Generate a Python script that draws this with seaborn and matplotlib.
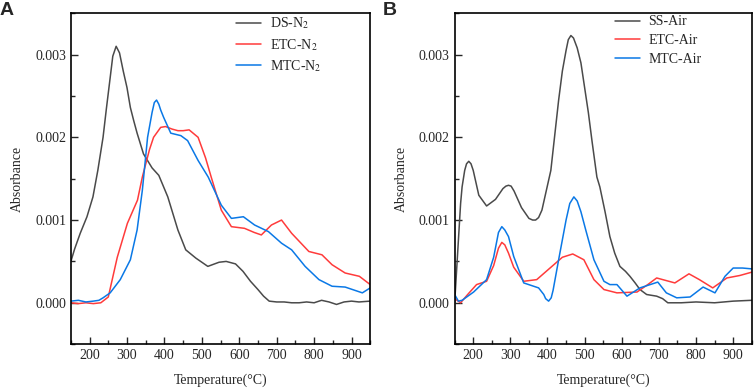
import pandas as pd
import seaborn as sns
import matplotlib.pyplot as plt
from matplotlib.ticker import MultipleLocator

# Panel A (N2 atmosphere), absorbance in units of 1e-3
ds_n2_t = [150, 160, 175, 193, 209, 222, 236, 245, 255, 262, 271, 280, 290, 300, 309, 318, 327,
           344, 367, 385, 409, 436, 457, 484, 516, 546, 565, 590, 610, 630, 650, 665, 680, 700,
           720, 740, 760, 780, 800, 820, 840, 860, 880, 900, 920, 950]
ds_n2_v = [0.5, 0.65, 0.84, 1.04, 1.28, 1.6, 2.0, 2.35, 2.72, 2.98, 3.1, 3.02, 2.8, 2.6, 2.36, 2.2,
           2.05, 1.8, 1.63, 1.54, 1.28, 0.88, 0.64, 0.54, 0.44, 0.49, 0.5, 0.47, 0.38, 0.26, 0.16,
           0.08, 0.02, 0.01, 0.01, 0.0, 0.0, 0.01, 0.0, 0.03, 0.01, -0.02, 0.01, 0.02, 0.01, 0.02]

etc_n2_t = [150, 170, 190, 210, 230, 250, 274, 301, 328, 341, 360, 371, 390, 403, 420, 436, 450,
            466, 490, 510, 525, 552, 579, 614, 640, 659, 686, 713, 740, 786, 821, 848, 883, 921, 950]
etc_n2_v = [0.0, -0.01, 0.0, -0.01, 0.0, 0.07, 0.55, 0.96, 1.24, 1.52, 1.85, 2.0, 2.12, 2.13, 2.1,
            2.08, 2.08, 2.09, 2.0, 1.75, 1.52, 1.12, 0.92, 0.9, 0.85, 0.82, 0.94, 1.0, 0.84, 0.62,
            0.58, 0.46, 0.36, 0.32, 0.22]

mtc_n2_t = [150, 170, 190, 210, 225, 236, 255, 282, 309, 327, 341, 355, 367, 373, 379, 385, 390,
            398, 417, 444, 462, 490, 517, 552, 579, 611, 641, 678, 713, 740, 776, 813, 848, 883,
            929, 950]
mtc_n2_v = [0.02, 0.03, 0.01, 0.02, 0.03, 0.06, 0.12, 0.28, 0.52, 0.88, 1.36, 2.0, 2.3, 2.42, 2.45,
            2.4, 2.33, 2.24, 2.05, 2.02, 1.96, 1.72, 1.52, 1.18, 1.02, 1.04, 0.94, 0.86, 0.72, 0.64,
            0.44, 0.28, 0.2, 0.19, 0.12, 0.18]

# Panel B (air atmosphere)
ss_air_t = [150, 158, 166, 170, 177, 182, 188, 194, 200, 215, 236, 260, 280, 288, 295, 302, 310,
            330, 350, 360, 368, 376, 385, 409, 430, 440, 450, 456, 463, 470, 480, 490, 500, 510,
            520, 533, 541, 555, 568, 581, 595, 610, 622, 636, 649, 667, 694, 710, 724, 760, 800,
            850, 900, 950]
ss_air_v = [0.0, 0.6, 1.2, 1.4, 1.6, 1.68, 1.71, 1.68, 1.6, 1.3, 1.17, 1.25, 1.38, 1.41, 1.42, 1.41,
            1.35, 1.15, 1.02, 1.0, 1.0, 1.03, 1.12, 1.6, 2.45, 2.8, 3.05, 3.18, 3.23, 3.2, 3.08,
            2.9, 2.6, 2.3, 1.95, 1.52, 1.4, 1.1, 0.8, 0.6, 0.44, 0.38, 0.32, 0.24, 0.16, 0.1, 0.08,
            0.05, 0.0, 0.0, 0.01, 0.0, 0.02, 0.03]

etc_air_t = [150, 166, 185, 209, 236, 255, 268, 277, 285, 295, 309, 336, 371, 417, 440, 468, 498,
             525, 552, 587, 641, 670, 694, 743, 781, 809, 845, 883, 918, 950]
etc_air_v = [0.05, 0.0, 0.1, 0.22, 0.26, 0.45, 0.66, 0.73, 0.7, 0.6, 0.43, 0.26, 0.28, 0.46, 0.55,
             0.59, 0.52, 0.28, 0.16, 0.12, 0.13, 0.22, 0.3, 0.24, 0.35, 0.28, 0.18, 0.3, 0.33, 0.37]

mtc_air_t = [150, 160, 170, 201, 236, 255, 268, 277, 285, 295, 309, 336, 376, 390, 395, 403, 410,
             415, 430, 450, 460, 471, 480, 490, 503, 525, 552, 568, 587, 614, 649, 697, 720, 748,
             784, 819, 851, 878, 900, 925, 950]
mtc_air_v = [0.1, 0.02, 0.03, 0.13, 0.28, 0.55, 0.85, 0.92, 0.88, 0.8, 0.56, 0.24, 0.18, 0.1, 0.05,
             0.02, 0.06, 0.15, 0.52, 1.0, 1.2, 1.28, 1.23, 1.1, 0.88, 0.52, 0.26, 0.22, 0.22, 0.08,
             0.18, 0.25, 0.12, 0.06, 0.07, 0.19, 0.12, 0.32, 0.42, 0.42, 0.41]

labels_a = ['DS-N$_2$', 'ETC-N$_2$', 'MTC-N$_2$']
labels_b = ['SS-Air', 'ETC-Air', 'MTC-Air']
colors = ['#4a4a4a', '#ff3b3b', '#0a78e6']


def long_frame(series, labels):
    frames = []
    for (t, v), name in zip(series, labels):
        frames.append(pd.DataFrame({'T': t, 'A': [x * 1e-3 for x in v], 'sample': name}))
    return pd.concat(frames, ignore_index=True)


df_a = long_frame([(ds_n2_t, ds_n2_v), (etc_n2_t, etc_n2_v), (mtc_n2_t, mtc_n2_v)], labels_a)
df_b = long_frame([(ss_air_t, ss_air_v), (etc_air_t, etc_air_v), (mtc_air_t, mtc_air_v)], labels_b)

sns.set_style("ticks")
plt.rcParams['font.family'] = ['Liberation Serif', 'DejaVu Serif']
plt.rcParams['mathtext.fontset'] = 'stix'
plt.rcParams['font.size'] = 10

fig = plt.figure(figsize=(7.54, 3.88), dpi=100)
ax_a = fig.add_axes([0.094, 0.113, 0.397, 0.853])
ax_b = fig.add_axes([0.603, 0.113, 0.394, 0.853])

for ax, df, labels, anchor, tag, tag_x in [(ax_a, df_a, labels_a, 0.855, 'A', 0.0),
                                            (ax_b, df_b, labels_b, 0.85, 'B', 0.508)]:
    sns.lineplot(data=df, x='T', y='A', hue='sample', hue_order=labels,
                 palette=colors, estimator=None, sort=False, linewidth=1.1, ax=ax)
    ax.set_xlim(150, 950)
    ax.set_ylim(-0.0005, 0.0035)
    ax.xaxis.set_major_locator(MultipleLocator(100))
    ax.xaxis.set_minor_locator(MultipleLocator(50))
    ax.yaxis.set_major_locator(MultipleLocator(0.001))
    ax.yaxis.set_minor_locator(MultipleLocator(0.0005))
    ax.yaxis.set_major_formatter(plt.FormatStrFormatter('%.3f'))
    ax.tick_params(which='major', direction='in', length=5, width=1, labelsize=10)
    ax.tick_params(which='minor', direction='in', length=3, width=1)
    for sp in ax.spines.values():
        sp.set_linewidth(1.2)
        sp.set_color('black')
    ax.set_xlabel('Temperature(°C)', fontsize=10, labelpad=8)
    ax.set_ylabel('Absorbance', fontsize=10, labelpad=8)
    ax.legend(title=None, frameon=False, loc='upper right', bbox_to_anchor=(anchor, 1.01),
              handlelength=1.8, handletextpad=0.6, labelspacing=0.4, fontsize=10,
              borderaxespad=0.0)
    fig.text(tag_x, 0.995, tag, fontsize=14, fontweight='bold',
             family='Liberation Sans', va='top', ha='left')

plt.savefig('out.png', dpi=100)
plt.close()
